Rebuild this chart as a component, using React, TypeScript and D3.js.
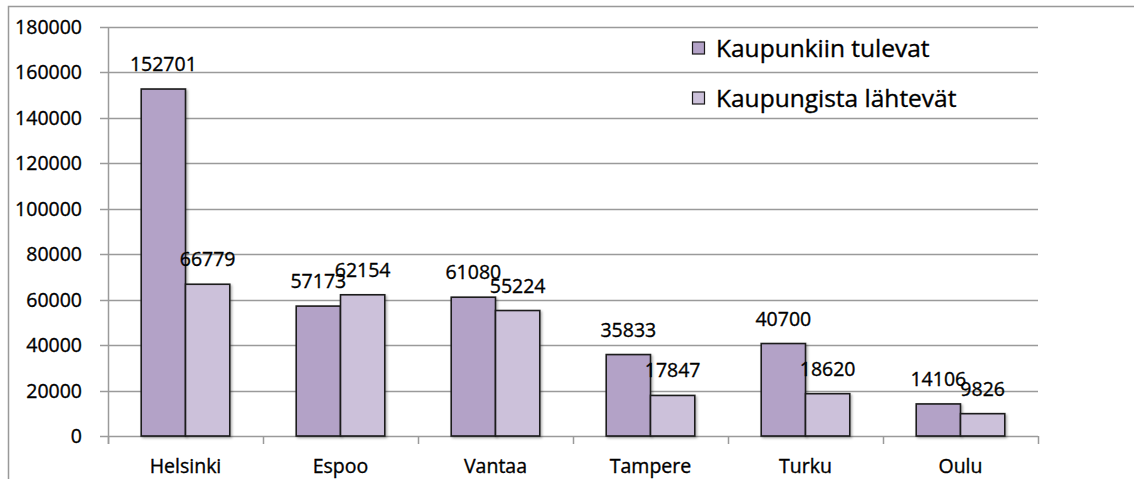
import React from "react";
import * as d3 from "d3";

const categories = ["Helsinki", "Espoo", "Vantaa", "Tampere", "Turku", "Oulu"];
const seriesNames = ["Kaupunkiin tulevat", "Kaupungista lähtevät"];
const incoming = [152701, 57173, 61080, 35833, 40700, 14106];
const outgoing = [66779, 62154, 55224, 17847, 18620, 9826];
const yTicks = [0, 20000, 40000, 60000, 80000, 100000, 120000, 140000, 160000, 180000];
const colors = ["#B3A2C7", "#CCC1DA"];

const W = 1134;
const H = 479;
const left = 108;
const right = 1038;
const top = 27;
const bottom = 436;
const FONT = "'Open Sans', sans-serif";
const TS = { stroke: "#000", strokeWidth: 0.35 };

export default function App() {
  const y = d3.scaleLinear().domain([0, 180000]).range([bottom, top]);
  const x = d3.scaleBand<string>().domain(categories).range([left, right]).padding(0);
  const bw = x.bandwidth();
  const groupW = bw * (2 / 3.5);
  const sub = d3
    .scaleBand<number>()
    .domain([0, 1])
    .range([(bw - groupW) / 2, (bw + groupW) / 2])
    .padding(0);
  const series = [incoming, outgoing];
  const boundaries = d3.range(categories.length + 1).map((i) => left + i * bw);

  return (
    <svg
      width={W}
      height={H}
      style={{ position: "absolute", left: 0, top: 0, background: "#fff" }}
      fontFamily={FONT}
    >
      <defs>
        <filter id="sh" x="-10%" y="-10%" width="130%" height="130%">
          <feDropShadow dx="1.5" dy="1.5" stdDeviation="1" floodColor="#000" floodOpacity="0.3" />
        </filter>
      </defs>
      {/* outer border */}
      <rect x={8.5} y={6.5} width={W + 20} height={H + 20} fill="none" stroke="#999" strokeWidth={1.5} />
      {/* gridlines */}
      {yTicks.map((t) => (
        <line key={"g" + t} x1={left - 8} x2={right} y1={Math.round(y(t)) + 0.5} y2={Math.round(y(t)) + 0.5} stroke="#9a9a9a" strokeWidth={1.5} />
      ))}
      {/* y axis */}
      <line x1={left + 0.5} x2={left + 0.5} y1={top} y2={bottom + 8} stroke="#9a9a9a" strokeWidth={1.5} />
      {/* x ticks */}
      {boundaries.map((b, i) => (
        <line key={"xt" + i} x1={Math.round(b) + 0.5} x2={Math.round(b) + 0.5} y1={bottom} y2={bottom + 8} stroke="#9a9a9a" strokeWidth={1.5} />
      ))}
      {/* y tick labels */}
      {yTicks.map((t) => (
        <text key={"yl" + t} x={left - 26} y={y(t)} dy="0.36em" textAnchor="end" fontSize={19.5} fill="#000" {...TS}>
          {t}
        </text>
      ))}
      {/* bars */}
      {categories.map((c, i) =>
        series.map((s, j) => (
          <rect
            key={c + j}
            x={(x(c) as number) + (sub(j) as number)}
            y={y(s[i])}
            width={sub.bandwidth()}
            height={bottom - y(s[i])}
            fill={colors[j]}
            stroke="#1a1a1a"
            strokeWidth={1.6}
            filter="url(#sh)"
          />
        ))
      )}
      {/* data labels */}
      {categories.map((c, i) =>
        series.map((s, j) => (
          <text
            key={"dl" + c + j}
            x={(x(c) as number) + (sub(j) as number) + sub.bandwidth() / 2}
            y={y(s[i]) - 18}
            textAnchor="middle"
            fontSize={19.5}
            fill="#000"
            {...TS}
          >
            {s[i]}
          </text>
        ))
      )}
      {/* category labels */}
      {categories.map((c) => (
        <text key={"cl" + c} x={(x(c) as number) + bw / 2} y={473} textAnchor="middle" fontSize={19.5} fill="#000" {...TS}>
          {c}
        </text>
      ))}
      {/* legend */}
      {seriesNames.map((n, j) => (
        <g key={"lg" + n} transform={`translate(692, ${48 + j * 50})`}>
          <rect x={0.5} y={-6} width={12} height={12} fill={colors[j]} stroke="#1a1a1a" strokeWidth={1.2} />
          <text x={24} y={0} dy="0.36em" fontSize={24.5} fill="#000" {...TS}>
            {n}
          </text>
        </g>
      ))}
    </svg>
  );
}
